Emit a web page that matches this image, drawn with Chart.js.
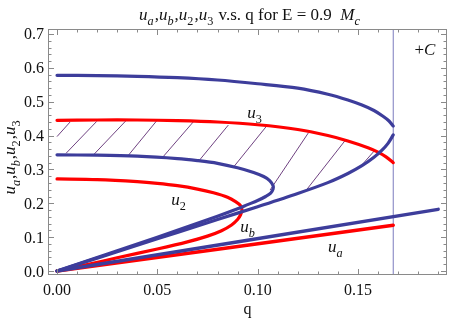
<!DOCTYPE html>
<html><head><meta charset="utf-8">
<script src="https://cdn.jsdelivr.net/npm/chart.js@4.4.0/dist/chart.umd.min.js"></script>
<style>html,body{margin:0;padding:0;background:#fff;}#wrap{width:450px;height:322px;position:relative;}</style>
</head><body><div id="wrap"><canvas id="c" width="450" height="322"></canvas></div>
<script>
// ---------- data ----------
const u3BlueQ = [0, 0.02, 0.04, 0.06, 0.08, 0.10, 0.12, 0.135, 0.145, 0.152, 0.158, 0.1625, 0.1655, 0.1676];
const u3BlueU = [0.578, 0.577, 0.575, 0.571, 0.564, 0.553, 0.540, 0.522, 0.505, 0.490, 0.474, 0.457, 0.443, 0.428];
const u3BlueLowQ = [0, 0.02, 0.04, 0.06, 0.08, 0.10, 0.12, 0.135, 0.145, 0.152, 0.158, 0.162, 0.165, 0.1676];
const u3BlueLowU = [0, 0.038, 0.076, 0.114, 0.152, 0.190, 0.229, 0.261, 0.288, 0.311, 0.336, 0.357, 0.377, 0.402];
const u3RedQ = [0, 0.02, 0.04, 0.06, 0.08, 0.10, 0.12, 0.135, 0.145, 0.155, 0.16, 0.164, 0.1676];
const u3RedU = [0.445, 0.446, 0.446, 0.444, 0.440, 0.432, 0.418, 0.400, 0.384, 0.364, 0.351, 0.337, 0.320];
const u2BlueQ = [0, 0.02, 0.04, 0.06, 0.07, 0.08, 0.09, 0.098, 0.103, 0.106, 0.1077, 0.1077, 0.1065, 0.104, 0.100, 0.095, 0.09, 0.08, 0.06, 0.04, 0.02, 0];
const u2BlueU = [0.343, 0.342, 0.339, 0.332, 0.326, 0.318, 0.305, 0.291, 0.279, 0.267, 0.252, 0.242, 0.230, 0.220, 0.208, 0.196, 0.184, 0.162, 0.120, 0.080, 0.040, 0];
const u2RedQ = [0, 0.02, 0.04, 0.05, 0.06, 0.07, 0.078, 0.085, 0.089, 0.0915, 0.0922, 0.0915, 0.090, 0.087, 0.082, 0.075, 0.065, 0.05, 0.03, 0.015, 0];
const u2RedU = [0.272, 0.270, 0.264, 0.259, 0.252, 0.242, 0.231, 0.218, 0.205, 0.193, 0.180, 0.166, 0.152, 0.136, 0.119, 0.103, 0.086, 0.065, 0.039, 0.019, 0];
const uaBlueQ = [0, 0.19];
const uaBlueU = [0, 0.182];
const uaRedQ = [0, 0.1676];
const uaRedU = [0, 0.135];
const qC = 0.1676;
const hatchQ0 = [0.0, 0.0045, 0.0181, 0.0350, 0.0522, 0.0708, 0.0884, 0.1062, 0.1236, 0.1524];
const hatchU0 = [0.397, 0.3476, 0.3426, 0.3376, 0.3328, 0.3258, 0.310, 0.239, 0.234, 0.316];
const hatchQ1 = [0.0065, 0.0198, 0.0347, 0.050, 0.0683, 0.0854, 0.1042, 0.1253, 0.1441, 0.1585];
const hatchU1 = [0.440, 0.442, 0.446, 0.446, 0.443, 0.431, 0.426, 0.408, 0.389, 0.357];
const xTickLabels = ['0.00', '0.05', '0.10', '0.15'];
const yTickLabels = ['0.0', '0.1', '0.2', '0.3', '0.4', '0.5', '0.6', '0.7'];

// ---------- styling / layout ----------
const X_MIN = -0.0045, X_MAX = 0.1944, Y_MIN = -0.0118, Y_MAX = 0.7147;
const BLUE = 'rgb(61,61,155)', RED = 'rgb(255,0,0)', HATCH = 'rgb(95,45,115)';
const FONT = '"Liberation Serif", "DejaVu Serif", serif';

function pts(q, u) { return q.map((v, i) => ({x: v, y: u[i]})); }
function curve(q, u, color, w, order) {
  return {data: pts(q, u), showLine: true, borderColor: color, borderWidth: w, pointRadius: 0,
          tension: 0.3, fill: false, order: order, borderCapStyle: 'round', borderJoinStyle: 'round'};
}
const datasets = [
  curve(u3BlueQ, u3BlueU, BLUE, 3.2, 1),
  curve(u3BlueLowQ, u3BlueLowU, BLUE, 3.2, 1),
  curve(u2BlueQ, u2BlueU, BLUE, 3.2, 1),
  curve(uaBlueQ, uaBlueU, BLUE, 3.5, 1),
  curve(u3RedQ, u3RedU, RED, 3.2, 2),
  curve(u2RedQ, u2RedU, RED, 3.2, 2),
  curve(uaRedQ, uaRedU, RED, 3.5, 2),
];
hatchQ0.forEach((q, i) => {
  datasets.push({data: [{x: q, y: hatchU0[i]}, {x: hatchQ1[i], y: hatchU1[i]}], showLine: true,
    borderColor: HATCH, borderWidth: 0.9, pointRadius: 0, tension: 0, order: 5});
});
datasets.push({data: [{x: qC, y: Y_MIN}, {x: qC, y: Y_MAX}], showLine: true,
  borderColor: 'rgba(80,80,170,0.75)', borderWidth: 1, pointRadius: 0, order: 4});

function drawRich(ctx, segs, x, y, size, align) {
  let w = 0;
  const parts = segs.map(([t, s]) => {
    const sub = s[0] === 's', it = s.includes('i');
    const fs = sub ? size * 0.72 : size;
    const font = (it ? 'italic ' : '') + fs + 'px ' + FONT;
    ctx.font = font;
    const mw = ctx.measureText(t).width + (sub ? 1 : 0);
    w += mw;
    return {t, font, mw, dy: sub ? size * 0.3 : 0};
  });
  let cx = align === 'center' ? x - w / 2 : (align === 'right' ? x - w : x);
  ctx.textAlign = 'left'; ctx.textBaseline = 'alphabetic';
  for (const p of parts) { ctx.font = p.font; ctx.fillText(p.t, cx, y + p.dy); cx += p.mw; }
}

const labels = [
  {segs: [['u', 'i'], ['3', 'sr']], q: 0.0987, u: 0.452},
  {segs: [['u', 'i'], ['2', 'sr']], q: 0.0608, u: 0.195},
  {segs: [['u', 'i'], ['b', 'si']], q: 0.0952, u: 0.115},
  {segs: [['u', 'i'], ['a', 'si']], q: 0.139, u: 0.056},
  {segs: [['+', 'r'], ['C', 'i']], q: 0.1834, u: 0.638},
];

const framePlugin = {
  id: 'frame',
  afterDatasetsDraw(chart) {
    const {ctx, chartArea: a, scales: {x, y}} = chart;
    ctx.save();
    ctx.strokeStyle = '#8a8a8a'; ctx.lineWidth = 1;
    ctx.strokeRect(a.left + 0.5, a.top + 0.5, a.right - a.left - 1, a.bottom - a.top - 1);
    ctx.beginPath();
    for (let i = 0; i <= 19; i++) {
      const v = i * 0.01, px = Math.round(x.getPixelForValue(v)) + 0.5, L = (i % 5 === 0) ? 6 : 3.5;
      ctx.moveTo(px, a.bottom); ctx.lineTo(px, a.bottom - L);
      ctx.moveTo(px, a.top); ctx.lineTo(px, a.top + L);
    }
    for (let i = 0; i <= 35; i++) {
      const v = i * 0.02, py = Math.round(y.getPixelForValue(v)) + 0.5, L = (i % 5 === 0) ? 6 : 3.5;
      ctx.moveTo(a.left, py); ctx.lineTo(a.left + L, py);
      ctx.moveTo(a.right, py); ctx.lineTo(a.right - L, py);
    }
    ctx.stroke();
    ctx.fillStyle = '#111';
    ctx.font = '16px ' + FONT;
    ctx.textAlign = 'center'; ctx.textBaseline = 'alphabetic';
    xTickLabels.forEach(t => ctx.fillText(t, x.getPixelForValue(parseFloat(t)), a.bottom + 20));
    ctx.textAlign = 'right';
    yTickLabels.forEach(t => ctx.fillText(t, a.left - 4, y.getPixelForValue(parseFloat(t)) + 5.5));
    ctx.textAlign = 'center';
    ctx.fillText('q', (a.left + a.right) / 2, 314);
    // title
    drawRich(ctx, [['u', 'i'], ['a', 'si'], [',', 'r'], ['u', 'i'], ['b', 'si'], [',', 'r'], ['u', 'i'], ['2', 'sr'], [',', 'r'], ['u', 'i'], ['3', 'sr'], [' v.s. q for E = 0.9  ', 'r'], ['M', 'i'], ['c', 'si']], 250, 20, 17, 'center');
    // y title
    ctx.save();
    ctx.translate(15, 157); ctx.rotate(-Math.PI / 2);
    drawRich(ctx, [['u', 'i'], ['a', 'si'], [',', 'r'], ['u', 'i'], ['b', 'si'], [',', 'r'], ['u', 'i'], ['2', 'sr'], [',', 'r'], ['u', 'i'], ['3', 'sr']], 0, 0, 17, 'center');
    ctx.restore();
    labels.forEach(l => drawRich(ctx, l.segs, x.getPixelForValue(l.q), y.getPixelForValue(l.u), 17, 'center'));
    ctx.restore();
  }
};

new Chart(document.getElementById('c'), {
  type: 'scatter',
  data: {datasets},
  options: {
    responsive: false, animation: false, devicePixelRatio: 1,
    layout: {padding: {left: 48, top: 29, right: 3, bottom: 47}},
    plugins: {legend: {display: false}, tooltip: {enabled: false}},
    scales: {
      x: {type: 'linear', min: X_MIN, max: X_MAX, display: false},
      y: {type: 'linear', min: Y_MIN, max: Y_MAX, display: false}
    }
  },
  plugins: [framePlugin]
});
</script></body></html>
